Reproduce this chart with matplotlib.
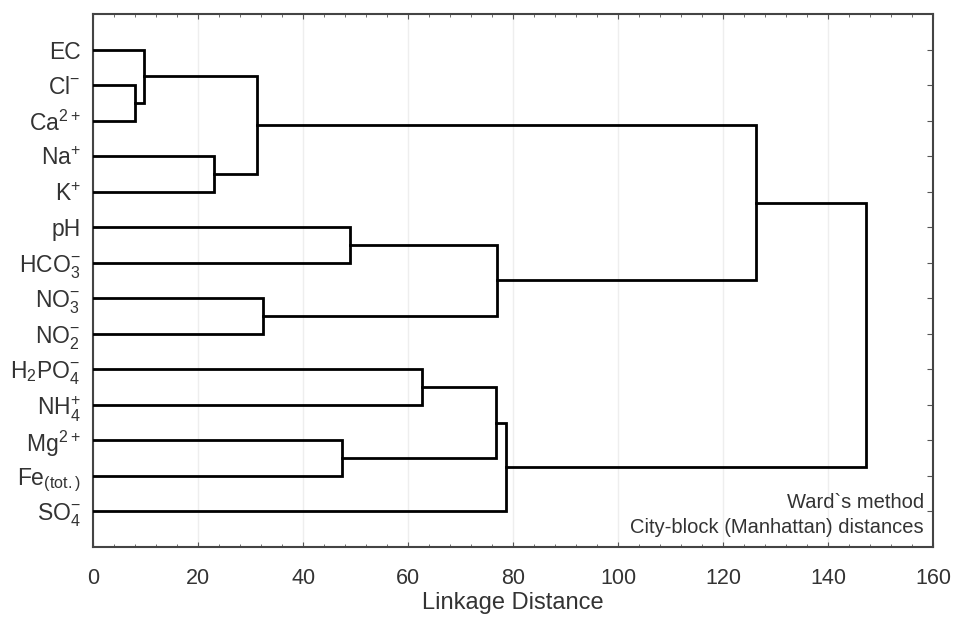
import numpy as np
import matplotlib
matplotlib.use("Agg")
import matplotlib.pyplot as plt
from matplotlib.ticker import MultipleLocator

# ── data ─────────────────────────────────────────────
# leaves, listed top to bottom as in the dendrogram
labels = ["EC", "Cl$^{-}$", "Ca$^{2+}$", "Na$^{+}$", "K$^{+}$", "pH",
          "HCO$_{3}^{-}$", "NO$_{3}^{-}$", "NO$_{2}^{-}$", "H$_{2}$PO$_{4}^{-}$",
          "NH$_{4}^{+}$", "Mg$^{2+}$", "Fe$_{(tot.)}$", "SO$_{4}^{-}$"]

# merges: node ids 0..13 are leaves, new nodes get 14, 15, ...
merge_a = [1, 0, 3, 15, 7, 11, 5, 9, 21, 20, 22, 17, 25]
merge_b = [2, 14, 4, 16, 8, 12, 6, 10, 19, 18, 13, 23, 24]
merge_h = [7.9, 9.8, 23.0, 31.2, 32.4, 47.5, 49.0, 62.6, 76.8, 76.9, 78.6, 126.3, 147.1]

plt.rcParams["font.family"] = ["Liberation Sans", "DejaVu Sans"]
plt.rcParams["mathtext.fontset"] = "custom"
plt.rcParams["mathtext.rm"] = "Liberation Sans"
plt.rcParams["mathtext.default"] = "regular"

fig = plt.figure(figsize=(9.57, 6.19), dpi=100)
ax = fig.add_axes([0.0972, 0.1163, 0.878, 0.8611])

# node positions: (height, y)
n = len(labels)
pos = {i: (0.0, i + 1) for i in range(n)}
line_kw = dict(color="black", lw=2.0, solid_capstyle="projecting",
               solid_joinstyle="miter", zorder=3)
for k, (a, b, h) in enumerate(zip(merge_a, merge_b, merge_h)):
    xa, ya = pos[a]
    xb, yb = pos[b]
    ax.plot([xa, h, h, xb], [ya, ya, yb, yb], **line_kw)
    pos[n + k] = (h, (ya + yb) / 2)

ax.set_xlim(0, 160)
ax.set_ylim(n + 1, 0)
ax.set_yticks(np.arange(1, n + 1))
ax.set_yticklabels(labels, fontsize=16.5, color="#333333")
ax.xaxis.set_major_locator(MultipleLocator(20))
ax.xaxis.set_minor_locator(MultipleLocator(4))
ax.tick_params(axis="x", which="both", direction="in", top=True,
               labelsize=15.5, labelcolor="#333333", color="#555555", pad=15)
ax.tick_params(axis="x", which="minor", length=2)
ax.tick_params(axis="y", direction="in", right=True, length=4, color="#555555", pad=9)
ax.grid(True, axis="x", color="#eeeeee", lw=1.0, zorder=0)
for sp in ax.spines.values():
    sp.set_color("#444444")
    sp.set_linewidth(1.5)

ax.set_xlabel("Linkage Distance", fontsize=17, color="#333333", labelpad=2)

ax.text(0.989, 0.083, "Ward`s method", transform=ax.transAxes,
        ha="right", va="center", fontsize=14.5, color="#333333")
ax.text(0.989, 0.036, "City-block (Manhattan) distances", transform=ax.transAxes,
        ha="right", va="center", fontsize=14.5, color="#333333")

fig.savefig("out.png", dpi=100)
